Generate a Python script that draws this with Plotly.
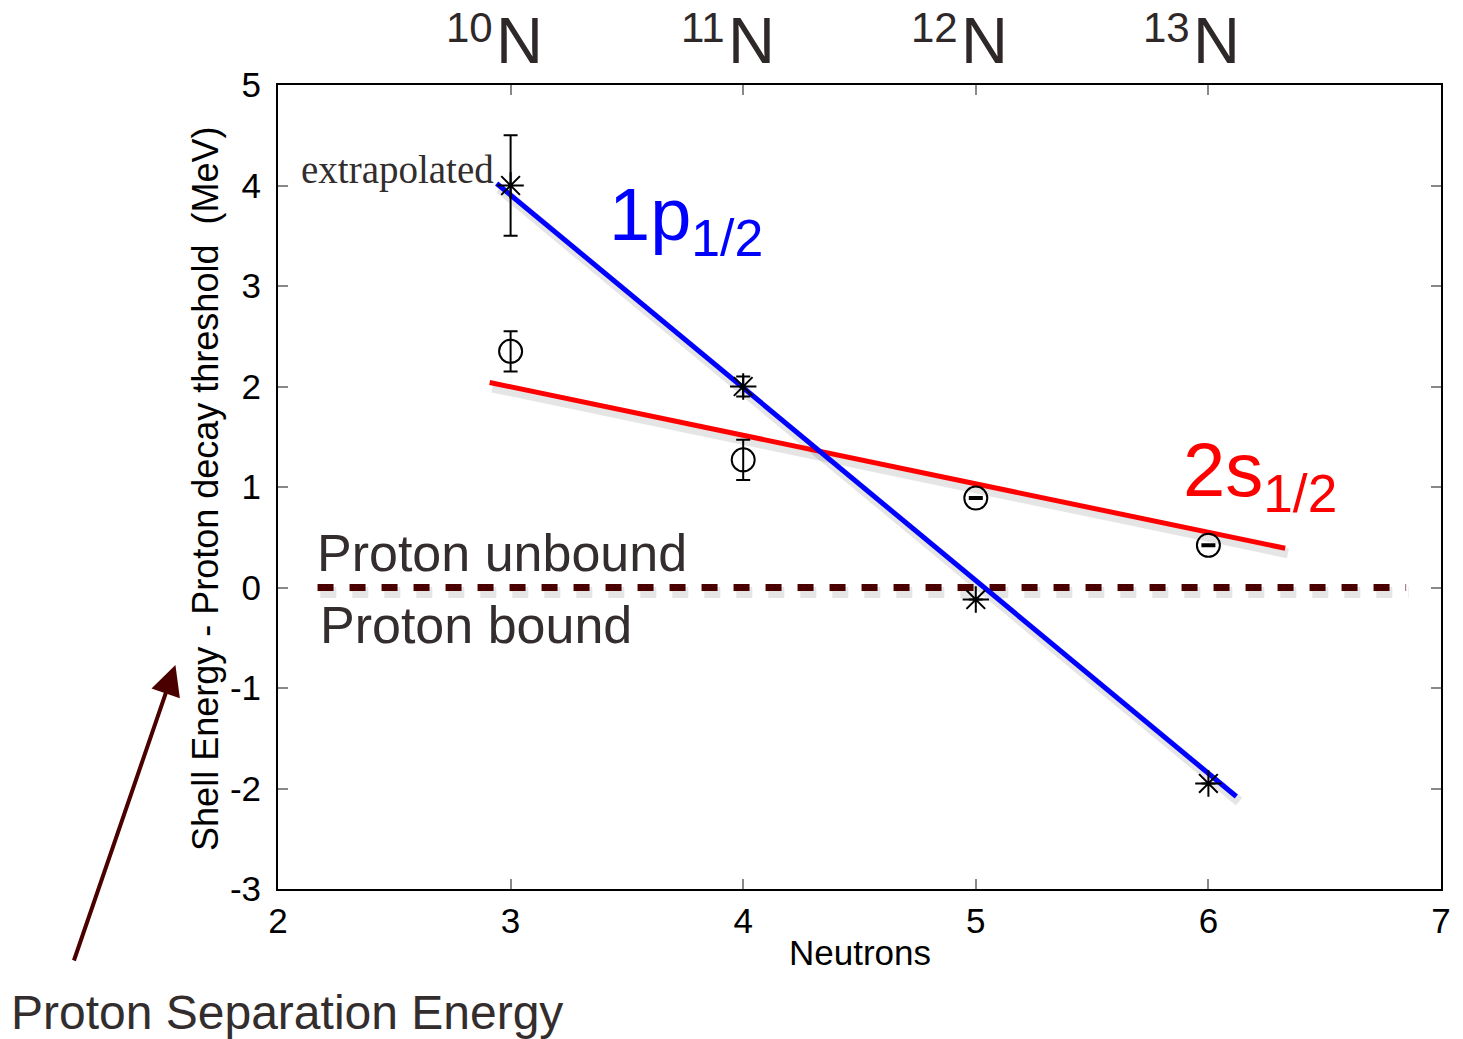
import plotly.graph_objects as go

# ---- data ----
neutrons = [3, 4, 5, 6]
isotope_mass = ["10", "11", "12", "13"]

# 1p1/2 (asterisks)
p12_x = [3, 4, 5, 6]
p12_y = [4.0, 2.0, -0.12, -1.95]
p12_err = [0.5, 0.1, 0.0, 0.0]

# 2s1/2 (open circles)
s12_x = [3, 4, 5, 6]
s12_y = [2.35, 1.27, 0.89, 0.42]
s12_err = [0.2, 0.2, 0.01, 0.01]

# fitted trend lines (end points)
p12_fit_x = [2.94, 6.12]
p12_fit_y = [4.02, -2.08]
s12_fit_x = [2.91, 6.33]
s12_fit_y = [2.04, 0.39]

# proton threshold
thr_x = [2.17, 6.85]
thr_y = [0.0, 0.0]

# axis ticks
x_ticks = [2, 3, 4, 5, 6, 7]
y_ticks = [-3, -2, -1, 0, 1, 2, 3, 4, 5]
y_tick_labels = ["-3", "-2", "-1", "0", "1", "2", "3", "4", "5"]

FONT = "Liberation Sans, Arial, Helvetica, sans-serif"
TXT = "#332d2d"
MAROON = "#4b0000"

# drop-shadow offset (style only)
SDX, SDY = 0.012, -0.05

fig = go.Figure()

def shadow(xs, ys, width, dash=None):
    fig.add_trace(go.Scatter(x=[v + SDX for v in xs], y=[v + SDY for v in ys], mode="lines",
                             line=dict(color="rgba(0,0,0,0.10)", width=width, dash=dash),
                             hoverinfo="skip", showlegend=False))

shadow(thr_x, thr_y, 11, "16px,16px")
shadow(s12_fit_x, s12_fit_y, 10)
shadow(p12_fit_x, p12_fit_y, 10)

fig.add_trace(go.Scatter(x=thr_x, y=thr_y, mode="lines",
                         line=dict(color=MAROON, width=7, dash="16px,16px"),
                         showlegend=False))
fig.add_trace(go.Scatter(x=s12_fit_x, y=s12_fit_y, mode="lines",
                         line=dict(color="#ff0000", width=5), showlegend=False))
fig.add_trace(go.Scatter(x=p12_fit_x, y=p12_fit_y, mode="lines",
                         line=dict(color="#0000ff", width=5), showlegend=False))

fig.add_trace(go.Scatter(
    x=s12_x, y=s12_y, mode="markers",
    marker=dict(symbol="circle-open", size=23, color="black", line=dict(width=2, color="black")),
    error_y=dict(type="data", array=s12_err, visible=True, color="black", thickness=2, width=7),
    showlegend=False))
fig.add_trace(go.Scatter(
    x=p12_x, y=p12_y, mode="markers",
    marker=dict(symbol="asterisk-open", size=22, color="black", line=dict(width=2, color="black")),
    error_y=dict(type="data", array=p12_err, visible=True, color="black", thickness=2, width=7),
    showlegend=False))

ann = []
for n, m in zip(neutrons, isotope_mass):
    ann.append(dict(x=n, y=1.0075, xref="x", yref="paper", xanchor="left", yanchor="bottom",
                    xshift=-17, text="N", showarrow=False,
                    font=dict(family=FONT, size=65, color="#2e2828")))
    ann.append(dict(x=n, y=1.04, xref="x", yref="paper", xanchor="right", yanchor="bottom",
                    xshift=-16, text=m, showarrow=False,
                    font=dict(family=FONT, size=42, color="#2e2828")))

ann += [
    dict(x=2.515, y=4.15, xref="x", yref="y", text="extrapolated", showarrow=False,
         font=dict(family="Liberation Serif, Times New Roman, serif", size=39, color=TXT)),
    dict(x=3.755, y=3.66, xref="x", yref="y", text="1p<sub>1/2</sub>", showarrow=False,
         font=dict(family=FONT, size=74, color="#0000ff")),
    dict(x=6.22, y=1.12, xref="x", yref="y", text="2s<sub>1/2</sub>", showarrow=False,
         font=dict(family=FONT, size=76, color="#ff0000")),
    dict(x=2.965, y=0.34, xref="x", yref="y", text="Proton unbound", showarrow=False,
         font=dict(family=FONT, size=52, color=TXT)),
    dict(x=2.85, y=-0.37, xref="x", yref="y", text="Proton bound", showarrow=False,
         font=dict(family=FONT, size=52, color=TXT)),
    dict(x=0.0077, y=-0.153, xref="paper", yref="paper", xanchor="center", yanchor="middle",
         text="Proton Separation Energy",
         showarrow=False, font=dict(family=FONT, size=48, color=TXT)),
    dict(x=-0.0882, y=0.2786, xref="paper", yref="paper", text="", showarrow=True,
         ax=-102, ay=297, axref="pixel", ayref="pixel",
         arrowhead=2, arrowsize=1.5, arrowwidth=4, arrowcolor=MAROON),
    # axis titles
    dict(x=-0.0625, y=0.498, xref="paper", yref="paper", xanchor="center", yanchor="middle",
         textangle=-90, text="Shell Energy - Proton decay threshold  (MeV)", showarrow=False,
         font=dict(family=FONT, size=36, color="black")),
    dict(x=0.5, y=-0.0796, xref="paper", yref="paper", xanchor="center", yanchor="middle",
         text="Neutrons", showarrow=False,
         font=dict(family=FONT, size=35, color="black")),
]

axis_common = dict(showgrid=False, zeroline=False, showline=True, linecolor="black", linewidth=2,
                   mirror="allticks", ticks="inside", ticklen=10, tickwidth=1.5, tickcolor="#888888",
                   tickfont=dict(family=FONT, size=35, color="black"))

fig.update_layout(
    width=1463, height=1039,
    margin=dict(l=278, r=17, t=85, b=150),
    paper_bgcolor="white", plot_bgcolor="white",
    xaxis=dict(range=[2, 7], tickvals=x_ticks, ticklabelstandoff=0, **axis_common),
    yaxis=dict(range=[-3, 5], tickvals=y_ticks, ticktext=y_tick_labels, ticklabelstandoff=8,
               **axis_common),
    annotations=ann,
    showlegend=False,
)

fig.write_html("out.html")
